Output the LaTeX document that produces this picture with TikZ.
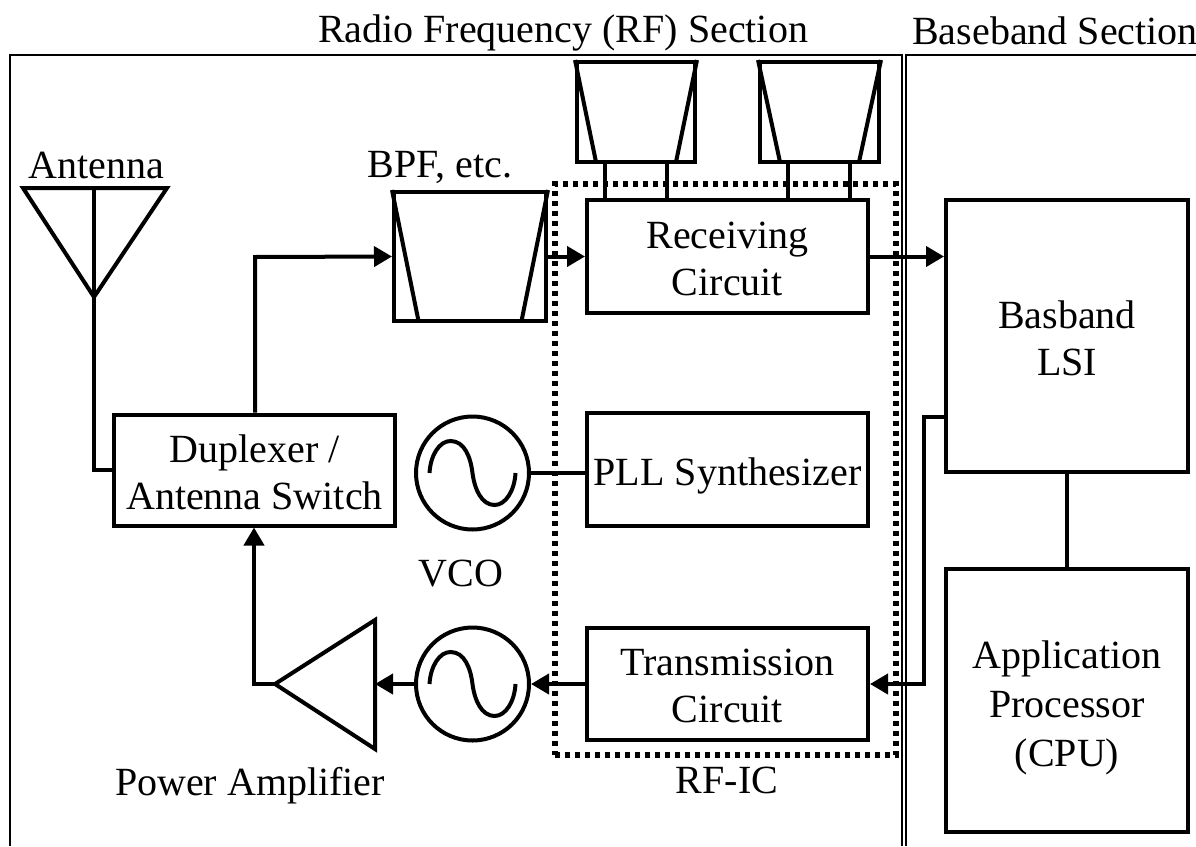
\documentclass[tikz,border=0pt]{standalone}
\usepackage{fontspec}
\setmainfont{Liberation Serif}
\usetikzlibrary{arrows.meta}
\tikzset{
  x=1pt,y=-1pt,
  lab/.style={inner sep=0pt,font=\fontsize{40}{47}\selectfont,align=center},
  lablong/.style={inner sep=0pt,font=\fontsize{40}{49}\selectfont,align=center},
  blockbox/.style={draw,line width=4pt,line join=miter,inner sep=0pt},
  frameline/.style={line width=2.2pt},
  wire/.style={line width=4pt},
  arrowwire/.style={wire,-{Triangle[length=18pt,width=20pt]}},
  osc/.style={circle,draw,line width=4pt,minimum size=113pt,inner sep=0pt},
  fbox/.style={draw,line width=4pt,inner sep=0pt},
  icbox/.style={draw,line width=5.5pt,dash pattern=on 5pt off 5pt,inner sep=0pt,minimum width=341pt,minimum height=571pt},
  sine/.style={line width=4pt,line cap=butt},
}
\newcommand{\filt}[6]{%
  \node[fbox,minimum width=#4-#2,minimum height=#5-#3] (#1) at ({(#2+#4)/2},{(#3+#5)/2}) {};
  \draw[wire,line join=miter] (#1.north west) -- ({#2+#6},#5);
  \draw[wire,line join=miter] (#1.north east) -- ({#4-#6},#5);
}
\newcommand{\wave}[2]{%
  \begin{scope}[shift={(#1,#2)}]
  \draw[sine] (-43,0) .. controls (-42,-18) and (-33,-32) .. (-22,-32)
     .. controls (-8,-32) and (-2,-16) .. (0,0)
     .. controls (2,16) and (9,32) .. (22,32)
     .. controls (33,32) and (42,18) .. (43,0);
  \end{scope}
}
\begin{document}
\begin{tikzpicture}
\useasboundingbox (0,0) rectangle (1196,846);
\clip (0,0) rectangle (1196,846);
% section frames
\coordinate (fa) at (10,846); \coordinate (fb) at (10,55); \coordinate (fc) at (902,55); \coordinate (fd) at (902,846);
\coordinate (ga) at (906,846); \coordinate (gb) at (906,55); \coordinate (gc) at (1196,55);
\draw[frameline] (fa) -- (fb) -- (fc) -- (fd);
\draw[frameline] (ga) -- (gb) -- (gc);
\node[lab] (rflab) at (563,33) {Radio Frequency (RF) Section};
\node[lab] (bblab) at (1055,31) {Baseband Section};
% blocks
\node[blockbox,minimum width=281pt,minimum height=113pt] (rx) at (727.5,256.5) {};
\node[blockbox,minimum width=281pt,minimum height=113pt] (pll) at (727.5,469.5) {};
\node[blockbox,minimum width=281pt,minimum height=112pt] (tx) at (727.5,684) {};
\node[blockbox,minimum width=281pt,minimum height=111pt] (dup) at (254.5,470) {};
\node[blockbox,minimum width=242pt,minimum height=272pt] (bb) at (1067,336) {};
\node[blockbox,minimum width=242pt,minimum height=263pt] (app) at (1067,700.5) {};
\node[lab] (rxt) at (727.5,258.5) {Receiving\\Circuit};
\node[lab] (pllt) at (727.5,475.5) {PLL Synthesizer};
\node[lab] (txt) at (727.5,685.5) {Transmission\\Circuit};
\node[lab] (dupt) at (254.5,472) {Duplexer /\\Antenna Switch};
\node[lab] (bbt) at (1067,338.5) {Basband\\LSI};
\node[lablong] (appt) at (1067,708) {Application\\Processor\\(CPU)};
% filters
\filt{bpf}{394}{192}{546}{321}{24.5}
\filt{fa1}{577}{62}{695}{162}{19}
\filt{fa2}{760}{62}{879}{162}{20}
\node[lab] (bpflab) at (440,167) {BPF, etc.};
% filter feeds
\foreach \xx/\ff in {605/fa1,667/fa1,788/fa2,850/fa2}
  \draw[wire] (\ff.south -| \xx,0) -- (rx.north -| \xx,0);
% RF-IC outline
\node[icbox] (ic) at (725.5,469.5) {};
\node[lab] (iclab) at (727,780) {RF-IC};
% antenna
\coordinate (anl) at (23,188); \coordinate (anr) at (167,188); \coordinate (anp) at (94,297); \coordinate (ant) at (94,188);
\draw[wire,line join=miter] (anl) -- (anr) -- (anp) -- cycle;
\draw[wire] (ant) -- (anp);
\node[lab] (antlab) at (96,165) {Antenna};
\coordinate (ac) at (94,470);
\draw[wire] (anp) -- (ac) -- (ac -| dup.west);
% oscillators
\node[osc] (vco) at (472.5,473) {};
\node[osc] (mix) at (472.5,684) {};
\wave{472.5}{473}
\wave{472.5}{684}
\node[lab] (vcolab) at (461,574) {VCO};
\draw[wire] (vco.east) -- (vco.east -| pll.west);
% power amplifier
\coordinate (pap) at (275,684); \coordinate (pat) at (375,620); \coordinate (pab) at (375,749);
\draw[wire,line join=miter] (pap) -- (pat) -- (pab) -- cycle;
\node[lab] (palab) at (250,786) {Power Amplifier};
% connectors
\coordinate (du) at (255,257);
\draw[arrowwire] (dup.north -| du) -- (du) -- (bpf.west);
\draw[arrowwire] (bpf.east) -- (bpf.east -| rx.west);
\draw[arrowwire] (rx.east |- bpf.east) -- (bb.west |- bpf.east);
\draw[wire] (bb.south) -- (app.north);
\coordinate (bl) at (924,417);
\draw[arrowwire] (bb.west |- bl) -- (bl) -- (bl |- tx.east) -- (tx.east);
\draw[arrowwire] (tx.west) -- (mix.east);
\draw[arrowwire] (mix.west) -- (pat |- mix.west);
\coordinate (pc) at (254,684);
\draw[arrowwire] (pap) -- (pc) -- (pc |- dup.south);
\end{tikzpicture}
\end{document}
